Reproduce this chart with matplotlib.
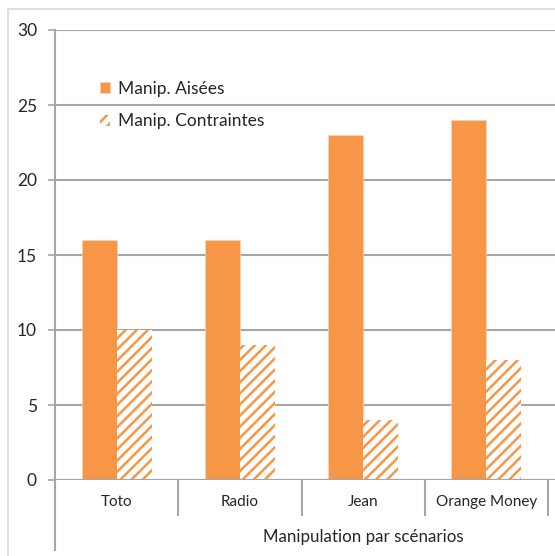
import matplotlib.pyplot as plt
from matplotlib.lines import Line2D
import numpy as np

categories = ['Toto', 'Radio', 'Jean', 'Orange Money']
aisees = [16, 16, 23, 24]
contraintes = [10, 9, 4, 8]
yticks = [0, 5, 10, 15, 20, 25, 30]

orange = '#F79646'
grid = '#A6A6A6'
plt.rcParams['font.family'] = ['Lato', 'DejaVu Sans']
plt.rcParams['hatch.linewidth'] = 1.8

W, H = 555, 556
fig = plt.figure(figsize=(W / 100, H / 100), dpi=100)
ax = fig.add_axes([55 / W, 76 / H, 1 - 55 / W, 450 / H])

x = np.arange(len(categories))
bw = 35 / 123.25
ax.bar(x - bw / 2, aisees, bw, color=orange, edgecolor='#FBD3B5', linewidth=0.5,
       label='Manip. Aisées', zorder=3)
ax.bar(x + bw / 2, contraintes, bw, color='white', edgecolor=orange, linewidth=0,
       hatch='///', label='Manip. Contraintes', zorder=3)

ax.set_xlim(-0.5, 3.5 + 7 / 123.25)
ax.set_ylim(0, 30)
ax.set_yticks(yticks)
ax.tick_params(axis='y', length=5, width=1.2, color=grid, labelsize=12.5, pad=8,
               labelcolor='#262626')
ax.set_xticks([])
ax.grid(axis='y', color=grid, linewidth=1.5, zorder=0)
for s in ['top', 'right', 'bottom']:
    ax.spines[s].set_visible(False)
ax.spines['left'].set_color(grid)
ax.spines['left'].set_linewidth(1.5)
ax.axhline(0, color=grid, linewidth=1.5, zorder=4)

# category separators and labels below the axis
trans = ax.get_xaxis_transform()
for b in np.arange(len(categories) + 1) - 0.5:
    ax.plot([b, b], [0, -35 / 450], color=grid, linewidth=1.5, transform=trans,
            clip_on=False)
ax.plot([-0.5, -0.5], [0, -70 / 450], color=grid, linewidth=1.5, transform=trans,
        clip_on=False)
for xi, c in zip(x, categories):
    ax.text(xi, -22 / 450, c, transform=trans, ha='center', va='center',
            fontsize=11, color='#262626')
ax.text(2.0, -57 / 450, 'Manipulation par scénarios', transform=trans,
        ha='center', va='center', fontsize=12.2, color='#262626')

leg = ax.legend(loc='upper left', bbox_to_anchor=(0.058, 0.922), frameon=False,
                fontsize=12.5, handlelength=0.6, handleheight=0.6, handletextpad=0.45,
                labelspacing=0.95)
for t in leg.get_texts():
    t.set_color('#262626')

# outer chart border
fig.add_artist(Line2D([8 / W, 8 / W], [0, 1 - 9 / H], color='#D9D9D9', linewidth=1.2))
fig.add_artist(Line2D([8 / W, 1], [1 - 9 / H, 1 - 9 / H], color='#D9D9D9', linewidth=1.2))

fig.savefig('out.png', dpi=100)
